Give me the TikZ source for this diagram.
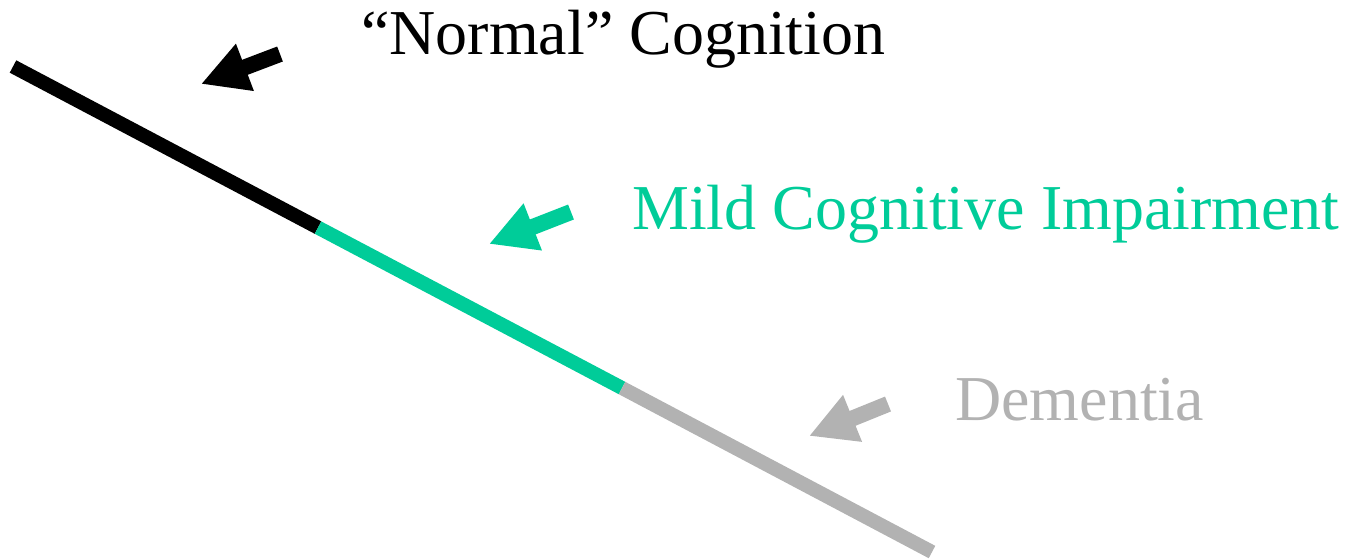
\documentclass[tikz,border=0pt]{standalone}
\usepackage{fontspec}
\setmainfont{Liberation Serif}
\usepackage{tikz}
\usetikzlibrary{arrows.meta, positioning}
\usepackage{xcolor}
\definecolor{mcigreen}{RGB}{0, 204, 153}
\definecolor{demgray}{RGB}{178, 178, 178}
\tikzset{
  lbl/.style={
    anchor=base west, inner sep=0pt,
    font=\fontsize{36.4}{40}\selectfont
  },
  seg/.style={line width=0.28cm, line cap=butt},
  parr/.style={-{Triangle[length=0.94cm, width=0.94cm]}, line width=0.32cm},
}

\begin{document}
\begin{tikzpicture}[x=0.02cm, y=-0.02cm]
        \useasboundingbox (0,0) rectangle (1348,559);
        % decline line
        \coordinate (s0) at (13,66.5);
        \coordinate (s1) at (318,227.6);
        \coordinate (s2) at (622,388);
        \coordinate (s3) at (932,552);
        \draw[seg, black] (s0)--(s1);
        \draw[seg, mcigreen] (s1)--(s2);
        \draw[seg, demgray] (s2)--(s3);
        % labels
        \node[lbl, text=black]    (normal) at (361,54)  {“Normal” Cognition};
        \node[lbl, text=mcigreen] (mci)    at (632,229) {Mild Cognitive Impairment};
        \node[lbl, text=demgray]  (dem)    at (955,420) {Dementia};
        % pointers
        \coordinate (nt) at (280,54);  \coordinate (nh) at (201,84);
        \coordinate (mt) at (571,212); \coordinate (mh) at (489,244);
        \coordinate (dt) at (888,404); \coordinate (dh) at (809,436);
        \draw[parr, black] (nt)--(nh);
        \draw[parr, mcigreen] (mt)--(mh);
        \draw[parr, demgray] (dt)--(dh);
      \end{tikzpicture}
\end{document}
